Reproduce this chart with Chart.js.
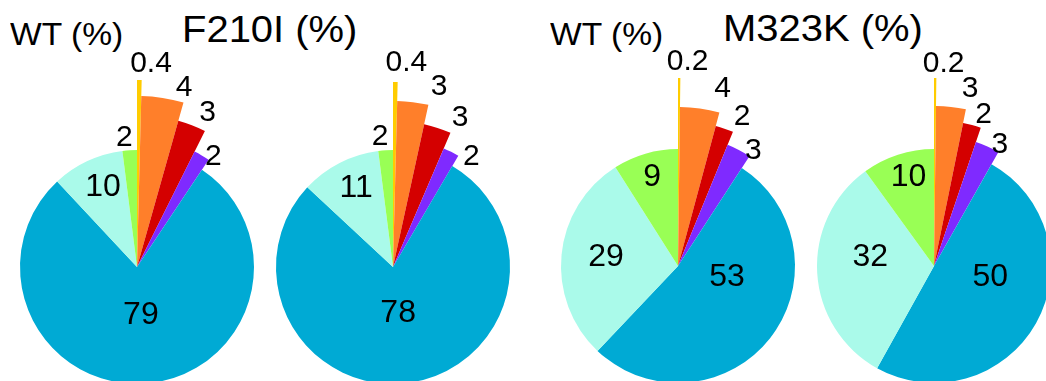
<!DOCTYPE html>
<html>
<head>
<meta charset="utf-8">
<script src="https://cdn.jsdelivr.net/npm/chart.js@4.4.1/dist/chart.umd.min.js"></script>
<style>
  html, body { margin: 0; padding: 0; background: #fff; }
  body { width: 1046px; height: 381px; overflow: hidden; position: relative;
         font-family: "Liberation Sans", Arial, Helvetica, sans-serif; }
  canvas { position: absolute; }
  .ttl { position: absolute; white-space: nowrap; line-height: 1; color: #000;
         transform-origin: 0 0; }
  .small { font-size: 32px; transform: scaleX(1.05); }
  .big { font-size: 37px; transform: scaleX(1.08); }
</style>
</head>
<body>
<div class="ttl small" style="left:10px; top:18px;">WT (%)</div>
<div class="ttl big" style="left:182px; top:11px;">F210I (%)</div>
<div class="ttl small" style="left:550px; top:18px;">WT (%)</div>
<div class="ttl big" style="left:723px; top:10px;">M323K (%)</div>

<canvas id="pieWtF" width="440" height="440"></canvas>
<canvas id="pieMutF" width="440" height="440"></canvas>
<canvas id="pieWtM" width="440" height="440"></canvas>
<canvas id="pieMutM" width="440" height="440"></canvas>

<script>
// Slice classes, clockwise from 12 o'clock
const categories = ['yellow', 'orange', 'red', 'purple', 'blue', 'aqua', 'green'];

// Percentages per slice
const wtF210I  = [0.4, 4, 3, 2, 79, 10, 2];
const mutF210I = [0.4, 3, 3, 2, 78, 11, 2];
const wtM323K  = [0.2, 4, 2, 3, 53, 29, 9];
const mutM323K = [0.2, 3, 2, 3, 50, 32, 10];

const sliceColors = ['#FFCC00', '#FF7F2A', '#D40000', '#7F2AFF', '#00AAD4', '#AAFAEA', '#99FF55'];

const BASE_R = 117;   // radius of the main disc, px
const HALF = 220;     // canvas half size

// Highlighted slices stand out past the disc (outer radius in px)
const reachWtF  = [187, 171, 152, 129, BASE_R, BASE_R, BASE_R];
const reachMutF = [185, 166, 146, 129, BASE_R, BASE_R, BASE_R];
const reachWtM  = [188, 159, 145, 131, BASE_R, BASE_R, BASE_R];
const reachMutM = [188, 160, 146, 131, BASE_R, BASE_R, BASE_R];

// Label placement: ['o', degrees past end angle, px beyond outer edge]
//                  ['m', degrees off the mid angle, fraction of disc radius]
const placeWtF  = [['o', 2.5, 17], ['o', -1, 14], ['o', -2, 18], ['o', 1, 5],
                   ['m', 0, 0.41], ['m', 2, 0.74], ['m', -2, 1.11]];
const placeMutF = [['o', 2.3, 20], ['o', 2, 20], ['o', 1, 18], ['o', 5, 6],
                   ['m', 2, 0.40], ['m', 2, 0.74], ['m', -2, 1.12]];
const placeWtM  = [['o', 2, 16], ['o', -1, 24], ['o', 1, 17], ['o', 0, 7],
                   ['m', -25, 0.43], ['m', 1.6, 0.62], ['m', 0, 0.79]];
const placeMutM = [['o', 2, 14], ['o', 0, 21], ['o', -0.5, 13], ['o', -1, 7],
                   ['m', -18, 0.49], ['m', 11, 0.55], ['m', 2, 0.79]];

const FONT = '"Liberation Sans", Arial, Helvetica, sans-serif';

function reachPlugin(reach) {
  return {
    id: 'reach',
    afterDatasetsUpdate(chart) {
      chart.getDatasetMeta(0).data.forEach((arc, i) => {
        arc.outerRadius = reach[i];
      });
    }
  };
}

function valueLabelPlugin(values, place) {
  return {
    id: 'valueLabels',
    afterDatasetsDraw(chart) {
      const ctx = chart.ctx;
      const d2r = Math.PI / 180;
      ctx.save();
      ctx.fillStyle = '#000';
      ctx.textAlign = 'center';
      ctx.textBaseline = 'middle';
      chart.getDatasetMeta(0).data.forEach((arc, i) => {
        const [mode, dDeg, dist] = place[i];
        let ang, r;
        if (mode === 'o') {
          ang = arc.endAngle + dDeg * d2r;
          r = arc.outerRadius + dist;
        } else {
          ang = (arc.startAngle + arc.endAngle) / 2 + dDeg * d2r;
          r = BASE_R * dist;
        }
        ctx.font = (r > BASE_R ? '30px ' : '32px ') + FONT;
        ctx.fillText(String(values[i]), arc.x + r * Math.cos(ang), arc.y + r * Math.sin(ang));
      });
      ctx.restore();
    }
  };
}

function drawPie(id, cx, cy, values, reach, place) {
  const cv = document.getElementById(id);
  cv.style.left = (cx - HALF) + 'px';
  cv.style.top = (cy - HALF) + 'px';
  new Chart(cv, {
    type: 'pie',
    data: {
      labels: categories,
      datasets: [{ data: values, backgroundColor: sliceColors, borderWidth: 0 }]
    },
    options: {
      responsive: false,
      animation: false,
      events: [],
      radius: BASE_R,
      layout: { padding: 0 },
      plugins: { legend: { display: false }, tooltip: { enabled: false } }
    },
    plugins: [reachPlugin(reach), valueLabelPlugin(values, place)]
  });
}

drawPie('pieWtF', 137, 267, wtF210I, reachWtF, placeWtF);
drawPie('pieMutF', 393, 267, mutF210I, reachMutF, placeMutF);
drawPie('pieWtM', 678, 266, wtM323K, reachWtM, placeWtM);
drawPie('pieMutM', 934, 266, mutM323K, reachMutM, placeMutM);
</script>
</body>
</html>
